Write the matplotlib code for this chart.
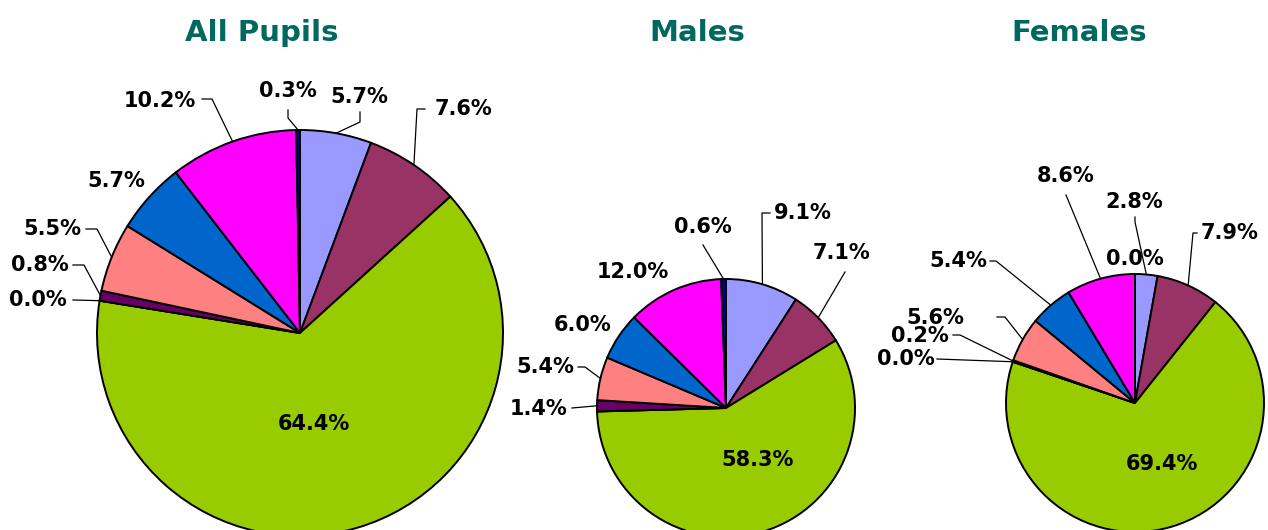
import numpy as np
import matplotlib
matplotlib.use("Agg")
import matplotlib.pyplot as plt

W, H = 1268, 530

# slice colours, clockwise from 12 o'clock
COLORS = ["#9999FF", "#993366", "#99CC00", "#CCFFFF", "#660066",
          "#FF8080", "#0066CC", "#FF00FF", "#000080"]

titles = ["All Pupils", "Males", "Females"]
all_pupils = [5.7, 7.6, 64.4, 0.0, 0.8, 5.5, 5.7, 10.2, 0.3]
males = [9.1, 7.1, 58.3, 0.0, 1.4, 5.4, 6.0, 12.0, 0.6]
females = [2.8, 7.9, 69.4, 0.0, 0.2, 5.6, 5.4, 8.6, 0.0]
male_shown = [True, True, True, False, True, True, True, True, True]

# layout in pixels (x right, y down): centre, radius, title x
PIES = [
    dict(vals=all_pupils, shown=[True] * 9, c=(300, 333), r=203, tx=262),
    dict(vals=males, shown=male_shown, c=(726, 408), r=129, tx=697),
    dict(vals=females, shown=[True] * 9, c=(1135, 403), r=129, tx=1079),
]

# label position (px) and leader start/elbow (px) or None
LABELS = [
    [((359, 97), [(360, 112), (360, 122)]),
     ((463, 109), [(425, 109), (417, 109)]),
     ((314, 424), None),
     ((38, 300), [(73, 300)]),
     ((40, 265), [(73, 265), (84, 265)]),
     ((52, 229), [(86, 229), (97, 229)]),
     ((116, 181), None),
     ((160, 101), [(202, 99), (212, 99)]),
     ((288, 91), [(288, 110), (288, 118)])],
    [((803, 213), [(770, 213), (762, 213)]),
     ((842, 253), [(845, 272)]),
     ((758, 460), None),
     None,
     ((539, 409), [(572, 408)]),
     ((545, 367), [(578, 367), (585, 367)]),
     ((583, 325), None),
     ((633, 272), None),
     ((703, 227), [(703, 245)])],
    [((1134, 202), [(1135, 217), (1135, 222)]),
     ((1230, 233), [(1197, 233), (1193, 233)]),
     ((1162, 464), None),
     ((906, 359), [(937, 359)]),
     ((920, 336), [(953, 335), (960, 335)]),
     ((935, 318), [(997, 317), (1005, 317)]),
     ((958, 261), [(990, 261), (996, 261)]),
     ((1066, 176), [(1066, 195)]),
     ((1135, 259), None)],
]

fig = plt.figure(figsize=(W / 100, H / 100), dpi=100)
ax = fig.add_axes([0, 0, 1, 1])
ax.set_xlim(0, W)
ax.set_ylim(0, H)
ax.set_aspect("equal")
ax.axis("off")


def px(p):
    return p[0], H - p[1]


for pie, labs, title in zip(PIES, LABELS, titles):
    cx, cy = px(pie["c"])
    r = pie["r"]
    vals = pie["vals"]
    wedges, _ = ax.pie(vals, colors=COLORS, startangle=90, counterclock=False,
                       center=(cx, cy), radius=r, normalize=True,
                       wedgeprops=dict(edgecolor="black", linewidth=1.4))
    ax.text(pie["tx"], H - 33, title, ha="center", va="center",
            fontsize=21, fontweight="bold", color="#00695F")
    for w, v, shown, lab in zip(wedges, vals, pie["shown"], labs):
        if lab is None or not shown:
            continue
        (lx, ly), leader = lab
        ax.text(lx, H - ly, "%.1f%%" % v, ha="center", va="center",
                fontsize=15, fontweight="bold", color="black")
        if leader:
            mid = np.deg2rad((w.theta1 + w.theta2) / 2)
            ex, ey = cx + r * np.cos(mid), cy + r * np.sin(mid)
            xs = [p[0] for p in leader] + [ex]
            ys = [H - p[1] for p in leader] + [ey]
            ax.plot(xs, ys, color="black", lw=0.9)

ax.set_xlim(0, W)
ax.set_ylim(0, H)
fig.savefig("out.png", dpi=100)
